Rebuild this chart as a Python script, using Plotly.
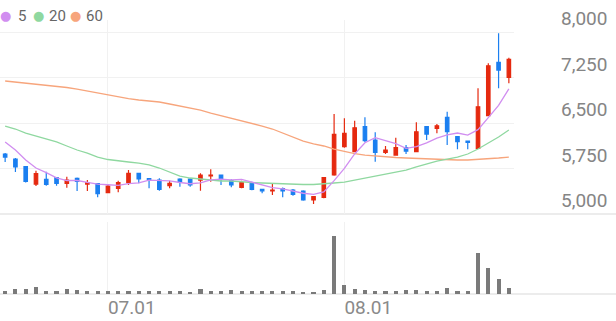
import plotly.graph_objects as go

# ---------------- data ----------------
dates = (["06.17", "06.18", "06.19", "06.20", "06.21", "06.24", "06.25", "06.26", "06.27", "06.28"]
         + ["07.%02d" % d for d in [1, 2, 3, 4, 5, 8, 9, 10, 11, 12, 15, 16, 17, 18, 19, 22, 23, 24, 25, 26, 29, 30, 31]]
         + ["08.%02d" % d for d in [1, 2, 5, 6, 7, 8, 9, 12, 13, 14, 16, 19, 20, 21, 22, 23, 26]])

opens = [5989, 5906, 5780, 5494, 5572, 5598, 5506, 5588, 5494, 5500,
         5351, 5423, 5516, 5670, 5582, 5560, 5467, 5577, 5577, 5560,
         5626, 5643, 5549, 5440, 5516, 5407, 5379, 5417, 5396, 5379,
         5231, 5275, 5643, 6109, 6027, 6439, 6220, 6017, 5972, 6093,
         6027, 6439, 6412, 6593, 6274, 6203, 6083, 6620, 7500, 7253]
highs = [6005, 5923, 5790, 5714, 5697, 5610, 5615, 5600, 5560, 5505,
         5489, 5549, 5725, 5680, 5590, 5590, 5549, 5590, 5588, 5670,
         5737, 5650, 5572, 5549, 5530, 5412, 5494, 5436, 5412, 5390,
         5290, 5610, 6648, 6577, 6538, 6593, 6346, 6121, 6257, 6137,
         6511, 6445, 6483, 6686, 6280, 6210, 7071, 7483, 7978, 7576]
lows = [5857, 5692, 5520, 5461, 5467, 5467, 5433, 5379, 5379, 5275,
        5341, 5357, 5478, 5506, 5423, 5385, 5423, 5450, 5450, 5384,
        5533, 5478, 5440, 5423, 5390, 5341, 5313, 5275, 5302, 5220,
        5165, 5260, 5630, 6093, 6017, 6181, 5862, 5989, 5961, 5989,
        6017, 6220, 6330, 6137, 6066, 6066, 6075, 6620, 7071, 7154]
closes = [5939, 5775, 5536, 5667, 5489, 5506, 5560, 5539, 5516, 5335,
          5461, 5516, 5670, 5577, 5572, 5407, 5506, 5533, 5478, 5643,
          5643, 5572, 5478, 5516, 5407, 5379, 5396, 5379, 5325, 5231,
          5285, 5598, 6313, 6330, 6422, 6208, 6017, 6055, 6093, 6038,
          6356, 6318, 6455, 6356, 6191, 6181, 6768, 7444, 7373, 7549]

ma5 = [6187, 6055, 5890, 5758, 5681, 5595, 5552, 5552, 5522, 5491,
       5482, 5473, 5500, 5512, 5559, 5548, 5546, 5519, 5499, 5513,
       5561, 5574, 5563, 5570, 5523, 5470, 5435, 5415, 5377, 5342,
       5323, 5364, 5550, 5751, 5990, 6174, 6258, 6206, 6159, 6082,
       6112, 6172, 6252, 6305, 6335, 6300, 6390, 6588, 6791, 7063]
ma20 = [6450, 6401, 6335, 6285, 6236, 6187, 6121, 6055, 6005, 5939,
        5898, 5873, 5857, 5840, 5808, 5758, 5692, 5626, 5593, 5577,
        5560, 5544, 5544, 5527, 5519, 5511, 5503, 5494, 5494, 5486,
        5486, 5494, 5511, 5527, 5560, 5593, 5626, 5659, 5692, 5725,
        5775, 5824, 5873, 5906, 5939, 5989, 6071, 6170, 6269, 6384]
ma60 = [7192, 7175, 7159, 7142, 7126, 7109, 7085, 7060, 7027, 6994,
        6961, 6928, 6903, 6879, 6862, 6846, 6813, 6780, 6747, 6714,
        6664, 6623, 6582, 6541, 6500, 6450, 6401, 6335, 6269, 6203,
        6154, 6121, 6071, 6030, 5997, 5972, 5956, 5939, 5931, 5923,
        5915, 5906, 5906, 5898, 5890, 5890, 5898, 5906, 5923, 5939]

volumes = [8, 14, 15, 20, 8, 10, 15, 13, 10, 9,
           8, 9, 9, 9, 9, 9, 9, 9, 7, 14,
           9, 10, 13, 9, 9, 9, 9, 9, 9, 6,
           6, 11, 175, 27, 14, 11, 10, 8, 9, 12,
           13, 8, 8, 19, 8, 8, 122, 79, 45, 19]

price_ticks = [5000, 5750, 6500, 7250, 8000]
price_tick_text = ["5,000", "5,750", "6,500", "7,250", "8,000"]
date_ticks = ["07.01", "08.01"]
legend_names = ["5", "20", "60"]

# ---------------- style ----------------
RED = "#e5290f"
BLUE = "#1b7ff0"
C5, C20, C60 = "#d18ef0", "#8fd8a0", "#f7a57c"
GRID = "#f1f1f1"
SEP = "#e6e6e6"
W, H = 616, 321
PLOT_W = 514
PLOT_H = 294

def px_x(p):
    return p / PLOT_W

def px_y(p):
    return (PLOT_H - p) / PLOT_H

fig = go.Figure()

fig.add_trace(go.Candlestick(
    x=dates, open=opens, high=highs, low=lows, close=closes,
    increasing=dict(line=dict(color=RED, width=1.2), fillcolor=RED),
    decreasing=dict(line=dict(color=BLUE, width=1.2), fillcolor=BLUE),
    xaxis="x", yaxis="y", showlegend=False, hoverinfo="skip"))

for vals, col in [(ma60, C60), (ma20, C20), (ma5, C5)]:
    fig.add_trace(go.Scatter(x=dates, y=vals, mode="lines",
                             line=dict(color=col, width=1.3),
                             xaxis="x", yaxis="y", showlegend=False, hoverinfo="skip"))

fig.add_trace(go.Bar(x=dates, y=volumes, marker=dict(color="#7a7a7a", line=dict(width=0)),
                     width=0.4, xaxis="x2", yaxis="y2", showlegend=False, hoverinfo="skip"))

xcommon = dict(type="category", range=[-0.5, len(dates) - 0.5], tickmode="array",
               tickvals=date_ticks, showgrid=True, gridcolor=GRID, gridwidth=1,
               zeroline=False, showline=False, ticks="", fixedrange=True, automargin=False)

fig.update_layout(
    width=W, height=H,
    margin=dict(l=0, r=W - PLOT_W, t=0, b=H - PLOT_H, autoexpand=False),
    paper_bgcolor="white", plot_bgcolor="white",
    showlegend=False,
    bargap=0,
    boxgap=0.52,
    font=dict(family="Roboto", color="#888888"),
    xaxis=dict(**xcommon, anchor="y", showticklabels=False, rangeslider=dict(visible=False)),
    xaxis2=dict(**xcommon, anchor="y2", matches="x", showticklabels=True,
                ticktext=date_ticks, ticklabelposition="outside right",
                tickfont=dict(family="Roboto", size=19, color="#8a8a8a")),
    yaxis=dict(domain=[px_y(214), px_y(20)], range=[5000, 5000 + 194 * 750 / 45.5],
               side="right", tickmode="array", tickvals=price_ticks, ticktext=price_tick_text,
               ticklabelposition="outside top", ticklabelstandoff=46,
               tickfont=dict(family="Roboto", size=19, color="#858585"),
               showgrid=True, gridcolor=GRID, gridwidth=1, zeroline=False, showline=False,
               ticks="", fixedrange=True, automargin=False),
    yaxis2=dict(domain=[0, px_y(222)], range=[0, 216], showticklabels=False,
                showgrid=False, zeroline=False, showline=False, ticks="", fixedrange=True,
                automargin=False),
)

# full-width separator lines
for ypix in [214, 294]:
    fig.add_shape(type="line", xref="paper", yref="paper",
                  x0=0, x1=W / PLOT_W, y0=px_y(ypix), y1=px_y(ypix),
                  line=dict(color=SEP, width=1.5), layer="below")

# legend (dots + labels)
legend_dot_x = [5, 38, 75]
legend_txt_x = [16, 47, 84]
for name, col, dx, tx in zip(legend_names, [C5, C20, C60], legend_dot_x, legend_txt_x):
    fig.add_annotation(xref="paper", yref="paper", x=px_x(dx), y=px_y(16),
                       text="●", showarrow=False, xanchor="center", yanchor="middle",
                       font=dict(family="DejaVu Sans", size=13, color=col))
    fig.add_annotation(xref="paper", yref="paper", x=px_x(tx), y=px_y(16),
                       text=name, showarrow=False, xanchor="left", yanchor="middle",
                       font=dict(family="Roboto", size=15, color="#666666"))

fig.write_html("out.html")
